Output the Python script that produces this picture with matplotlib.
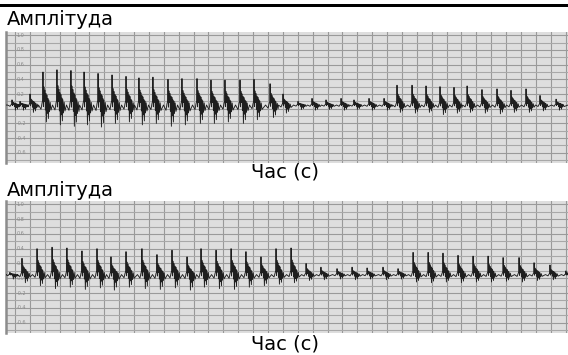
import numpy as np
import matplotlib
matplotlib.use("Agg")
import matplotlib.pyplot as plt
from matplotlib.patches import Rectangle

# ---------------- data ----------------
ylabel_text = "Амплітуда"
xlabel_text = "Час (с)"
ytick_values = [1.0, 0.8, 0.6, 0.4, 0.2, 0.0, -0.2, -0.4, -0.6]
ytick_labels = ["1.0", "0.8", "0.6", "0.4", "0.2", "0.0", "-0.2", "-0.4", "-0.6"]

baseline = 0.05

# panel 1: beat times (s), spike peaks, negative troughs
p1_t = [-0.20, 0.34, 1.01, 1.88, 2.82, 3.76, 4.64, 5.58, 6.52, 7.46, 8.33, 9.27,
        10.28, 11.22, 12.23, 13.17, 14.11, 15.12, 16.06, 17.14, 18.01, 19.02,
        19.96, 20.90, 21.91, 22.78, 23.79, 24.80, 25.67, 26.68, 27.62, 28.56,
        29.50, 30.38, 31.38, 32.39, 33.33, 34.34, 35.28, 36.36]
p1_peak = [0.12, 0.10, 0.20, 0.50, 0.53, 0.52, 0.50, 0.48, 0.46, 0.44, 0.42, 0.43,
           0.40, 0.41, 0.41, 0.39, 0.39, 0.39, 0.40, 0.34, 0.20, 0.10,
           0.14, 0.12, 0.14, 0.12, 0.14, 0.14, 0.32, 0.32, 0.31, 0.30,
           0.29, 0.31, 0.26, 0.27, 0.25, 0.27, 0.18, 0.13]
p1_trough = [-0.02, -0.02, -0.05, -0.18, -0.22, -0.24, -0.22, -0.25, -0.20, -0.18, -0.22, -0.20,
             -0.24, -0.22, -0.20, -0.20, -0.18, -0.20, -0.15, -0.12, -0.06, -0.01,
             -0.02, -0.01, -0.02, -0.01, -0.02, -0.02, -0.05, -0.06, -0.05, -0.08,
             -0.06, -0.05, -0.06, -0.07, -0.05, -0.05, -0.03, -0.02]

# panel 2
p2_t = [-0.34, 0.47, 1.48, 2.49, 3.49, 4.50, 5.51, 6.45, 7.46, 8.53, 9.54, 10.55,
        11.56, 12.50, 13.51, 14.52, 15.52, 16.53, 17.54, 18.55, 19.56, 20.56,
        21.64, 22.65, 23.66, 24.73, 25.74, 26.75, 27.76, 28.76, 29.77, 30.78,
        31.79, 32.80, 33.87, 34.88, 35.95, 37.02]
p2_peak = [0.08, 0.27, 0.40, 0.42, 0.41, 0.37, 0.40, 0.29, 0.36, 0.40, 0.32, 0.38,
           0.29, 0.40, 0.38, 0.40, 0.36, 0.29, 0.40, 0.41, 0.20, 0.15,
           0.13, 0.15, 0.14, 0.15, 0.13, 0.35, 0.35, 0.34, 0.31, 0.30,
           0.30, 0.28, 0.28, 0.21, 0.18, 0.10]
p2_trough = [-0.01, -0.06, -0.10, -0.14, -0.12, -0.15, -0.13, -0.16, -0.12, -0.14, -0.15, -0.13,
             -0.16, -0.12, -0.14, -0.15, -0.12, -0.10, -0.08, -0.06, -0.03, -0.02,
             -0.01, -0.02, -0.01, -0.02, -0.01, -0.05, -0.06, -0.05, -0.06, -0.05,
             -0.05, -0.04, -0.05, -0.03, -0.02, -0.01]

# shape of one beat complex (offsets in pixels of the original trace)
shape_dpx = [-4.5, -3.0, -2.0, -1.0, -0.3, 0.0, 0.4, 0.9, 1.4, 1.9, 2.4, 2.9,
             3.4, 3.9, 4.4, 4.9, 5.4, 5.9, 6.5, 7.2, 8.0]
shape_up = [0.0, 0.0, 0.0, 0.05, 0.15, 1.0, 0.0, 0.55, 0.1, 0.45, 0.0, 0.35,
            0.0, 0.3, 0.0, 0.2, 0.0, 0.15, 0.0, 0.08, 0.0]
shape_dn = [0.0, 0.15, 0.25, 0.0, 0.0, 0.0, 0.1, 0.0, 0.0, 0.0, 0.3, 0.0,
            1.0, 0.0, 0.5, 0.0, 0.8, 0.0, 0.4, 0.0, 0.3]

PX_PER_S = 14.88
XMIN, XMAX = -0.605, 37.16
YMIN, YMAX = -0.74, 1.045


def trace(ts, peaks, troughs):
    xs, ys = [XMIN], [baseline]
    for t, p, n in zip(ts, peaks, troughs):
        for d, u, dn in zip(shape_dpx, shape_up, shape_dn):
            xs.append(t + d / PX_PER_S)
            ys.append(baseline + u * (p - baseline) + dn * (n - baseline))
    xs.append(XMAX)
    ys.append(baseline)
    return xs, ys


W, H = 568, 355
fig = plt.figure(figsize=(W / 100, H / 100), dpi=100)
fig.patch.set_facecolor("white")


def fx(px):
    return px / W


def fy(py):
    return 1 - py / H


def panel(top, bottom, ts, peaks, troughs):
    ax = fig.add_axes([fx(6), fy(bottom), fx(568 - 6), (bottom - top) / H])
    ax.set_facecolor("#dedede")
    ax.set_xlim(XMIN, XMAX)
    ax.set_ylim(YMIN, YMAX)
    for v in np.arange(0, 38):
        ax.axvline(v, color="#999999", lw=0.8, zorder=1)
    for k in range(-7, 11):
        ax.axhline(k / 10, color="#a8a8a8" if k % 2 else "#9a9a9a", lw=0.8, zorder=1)
    xs, ys = trace(ts, peaks, troughs)
    ax.plot(xs, ys, color="#1e1e1e", lw=0.65, zorder=3)
    for v, lab in zip(ytick_values, ytick_labels):
        ax.text(0.1, v, lab, fontsize=3.5, color="#8a8a8a", va="center", ha="left", zorder=2)
    for s in ("top", "right", "bottom"):
        ax.spines[s].set_visible(False)
    ax.spines["left"].set_color("#8c8c8c")
    ax.spines["left"].set_linewidth(1.8)
    ax.set_xticks([])
    ax.set_yticks([])
    return ax


panel(32, 163, p1_t, p1_peak, p1_trough)
panel(201, 333, p2_t, p2_peak, p2_trough)

# header rule
fig.add_artist(Rectangle((0, fy(7)), 1, 3.5 / H, transform=fig.transFigure,
                         color="black", lw=0))

fig.text(fx(7), fy(25), ylabel_text, fontsize=14, ha="left", va="baseline")
fig.text(fx(285), fy(178), xlabel_text, fontsize=14, ha="center", va="baseline")
fig.text(fx(7), fy(196), ylabel_text, fontsize=14, ha="left", va="baseline")
fig.text(fx(285), fy(349), xlabel_text, fontsize=14, ha="center", va="baseline")

fig.savefig("out.png", dpi=100)
